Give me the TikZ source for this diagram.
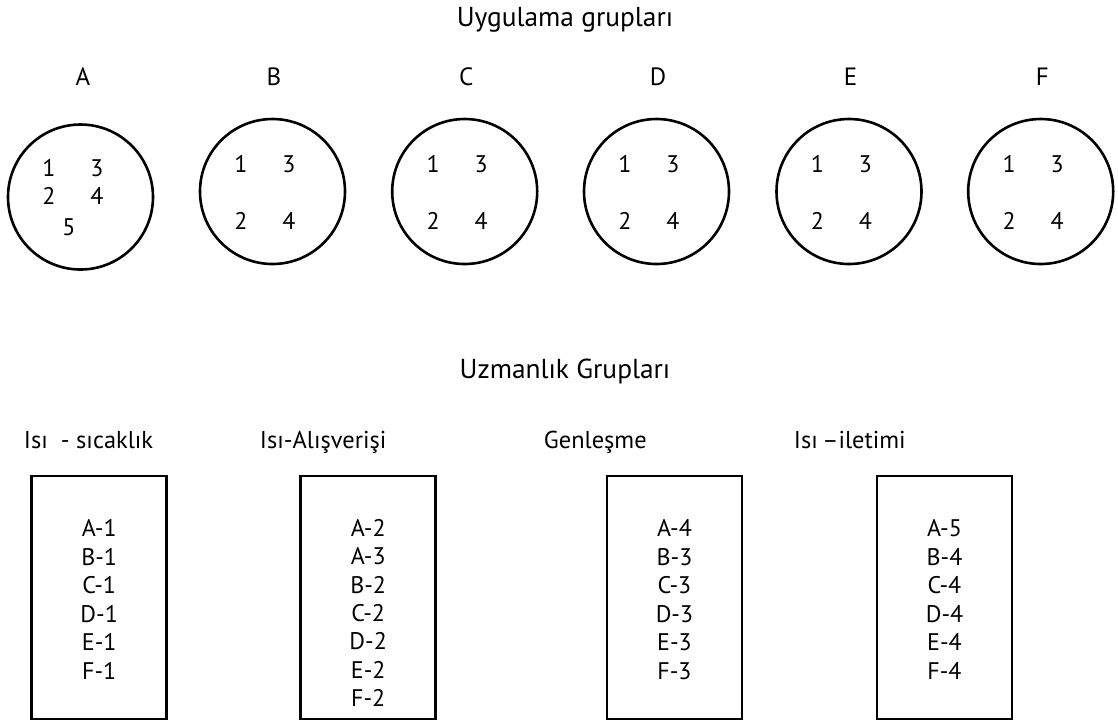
\documentclass[tikz,border=0pt]{standalone}
\usepackage{fontspec}
\setmainfont{PT Sans}
\begin{document}
\begin{tikzpicture}[x=0.5pt, y=-0.5pt, line width=1.3pt]
        \useasboundingbox (0,0) rectangle (1118,720);
        \tikzset{
            baslik/.style={font=\fontsize{13.7}{15}\selectfont, anchor=base},
            harf/.style={font=\fontsize{12.5}{14}\selectfont, anchor=base},
            rakam/.style={font=\fontsize{12}{13}\selectfont, inner sep=0pt},
            grup/.style={draw, circle, minimum size=72.5pt, inner sep=0pt},
            kutu/.style={draw, rectangle, minimum width=67.5pt, minimum height=121.5pt, inner sep=0pt},
            konu/.style={font=\fontsize{12.2}{14}\selectfont, anchor=base west},
            madde/.style={font=\fontsize{12}{13}\selectfont, anchor=base},
        }
        \def\satir{28.5}

        % uygulama gruplari
        \node[baslik] (ust) at (565,26.7) {Uygulama grupları};

        \node[grup] (grA) at (80.5,197) {};
        \node[harf] (hA) at (83,85) {A};
        \node[rakam] (A1) at (49,168) {1};
        \node[rakam] (A3) at (97,168) {3};
        \node[rakam] (A2) at (49,196) {2};
        \node[rakam] (A4) at (97,196) {4};
        \node[rakam] (A5) at (69,227) {5};

        \foreach \g/\x in {B/272.5, C/464.7, D/656.5, E/849, F/1040.7} {
            \node[grup] (gr\g) at (\x,191.5) {};
            \node[harf] (h\g) at (\x+1.5,85) {\g};
            \node[rakam] (\g1) at ([shift={(-31.5,-27.5)}]gr\g.center) {1};
            \node[rakam] (\g3) at ([shift={(16.5,-27.5)}]gr\g.center) {3};
            \node[rakam] (\g2) at ([shift={(-31.5,29.5)}]gr\g.center) {2};
            \node[rakam] (\g4) at ([shift={(16.5,29.5)}]gr\g.center) {4};
        }

        % uzmanlik gruplari
        \node[baslik] (alt) at (565,378) {Uzmanlık Grupları};

        \node[konu] (k1) at (16,448) {Isı\ \ - sıcaklık};
        \node[konu] (k2) at (252,448) {Isı-Alışverişi};
        \node[konu] (k3) at (536,448) {Genleşme};
        \node[konu] (k4) at (786,448) {Isı \kern-1pt–iletimi};

        \node[kutu] (u1) at (99.2,597.5) {};
        \node[kutu] (u2) at (368.2,597.5) {};
        \node[kutu] (u3) at (674.5,597.5) {};
        \node[kutu] (u4) at (944.5,597.5) {};

        \foreach \t [count=\i] in {A-1,B-1,C-1,D-1,E-1,F-1}
            \node[madde] (m1-\i) at (99.2,536.5+\satir*\i-\satir) {\t};
        \foreach \t [count=\i] in {A-2,A-3,B-2,C-2,D-2,E-2,F-2}
            \node[madde] (m2-\i) at (368.2,536.5+28.3*\i-28.3) {\t};
        \foreach \t [count=\i] in {A-4,B-3,C-3,D-3,E-3,F-3}
            \node[madde] (m3-\i) at (674.5,536.5+\satir*\i-\satir) {\t};
        \foreach \t [count=\i] in {A-5,B-4,C-4,D-4,E-4,F-4}
            \node[madde] (m4-\i) at (944.5,536.5+\satir*\i-\satir) {\t};

    \end{tikzpicture}
\end{document}
